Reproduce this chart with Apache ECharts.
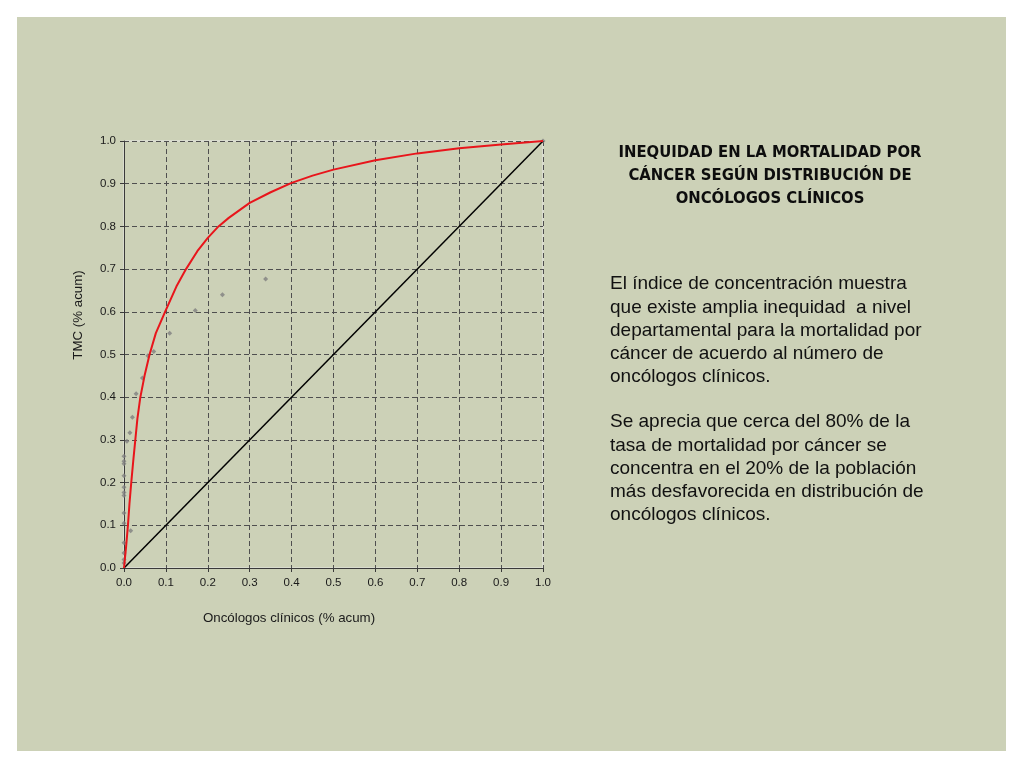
<!DOCTYPE html>
<html lang="es">
<head>
    <meta charset="utf-8">
    <title>Inequidad mortalidad por cáncer</title>
    <script src="https://cdn.jsdelivr.net/npm/echarts@6/dist/echarts.min.js"></script>
    <style>
        html, body {margin: 0; padding: 0; background: #ffffff;}
        #panel {position: absolute; left: 17px; top: 17px; width: 989px; height: 734px; background: #ccd1b7;}
        #main {position: absolute; left: 0; top: 0; width: 1024px; height: 768px;}
    </style>
</head>
<body>
<div id="panel"></div>
<div id="main"></div>

<script type="text/javascript">
    // puntos departamentales (x = oncólogos % acum, y = TMC % acum)
    var puntosX = [0, 0, 0, 0, 0, 0, 0, 0, 0, 0, 0, 0, 0,
        0.016, 0.007, 0.014, 0.020, 0.029, 0.044, 0.057, 0.071, 0.109, 0.170, 0.235, 0.338, 1.0];
    var puntosY = [0.012, 0.020, 0.035, 0.059, 0.105, 0.129, 0.170, 0.177, 0.189, 0.216, 0.244, 0.250, 0.262,
        0.087, 0.297, 0.317, 0.353, 0.408, 0.445, 0.497, 0.507, 0.550, 0.603, 0.640, 0.677, 1.0];

    // curva de concentración
    var curvaX = [0, 0.005, 0.0094, 0.013, 0.0173, 0.022, 0.027, 0.032, 0.039, 0.049, 0.061, 0.076, 0.098,
        0.125, 0.148, 0.175, 0.2, 0.2255, 0.25, 0.3, 0.35, 0.4, 0.45, 0.5, 0.6, 0.7, 0.8, 0.9, 1.0];
    var curvaY = [0, 0.05, 0.10, 0.15, 0.20, 0.25, 0.30, 0.35, 0.40, 0.45, 0.50, 0.55, 0.60,
        0.659, 0.70, 0.742, 0.773, 0.80, 0.82, 0.855, 0.88, 0.902, 0.919, 0.933, 0.955, 0.971, 0.983, 0.992, 1.0];

    // línea de igualdad
    var igualdadX = [0, 1];
    var igualdadY = [0, 1];

    var titulo = ['INEQUIDAD EN LA MORTALIDAD POR', 'CÁNCER SEGÚN DISTRIBUCIÓN DE', 'ONCÓLOGOS CLÍNICOS'];
    var parrafo1 = ['El índice de concentración muestra', 'que existe amplia inequidad  a nivel',
        'departamental para la mortalidad por', 'cáncer de acuerdo al número de', 'oncólogos clínicos.'];
    var parrafo2 = ['Se aprecia que cerca del 80% de la', 'tasa de mortalidad por cáncer se',
        'concentra en el 20% de la población', 'más desfavorecida en distribución de', 'oncólogos clínicos.'];

    function pares(xs, ys) {
        var out = [];
        for (var i = 0; i < xs.length; i++) out.push([xs[i], ys[i]]);
        return out;
    }

    var myChart = echarts.init(document.getElementById('main'), null, {renderer: 'canvas'});

    var ejeComun = {
        type: 'value',
        min: 0,
        max: 1,
        interval: 0.1,
        axisLine: {show: true, onZero: false, lineStyle: {color: '#3a3a3a', width: 1}},
        axisTick: {show: true, length: 4, lineStyle: {color: '#3a3a3a'}},
        axisLabel: {
            color: '#1a1a1a', fontSize: 11.5, fontFamily: 'Liberation Sans, Arial, sans-serif',
            formatter: function (v) { return v.toFixed(1); }
        },
        splitLine: {show: true, lineStyle: {color: '#4f4f4f', type: [5, 3], width: 1}}
    };

    var fuenteEje = '13.3px "Liberation Sans", Arial, sans-serif';
    var graficos = [
        {type: 'text', x: 78, y: 315, rotation: Math.PI / 2,
            style: {text: 'TMC (% acum)', fill: '#1a1a1a', font: fuenteEje,
                textAlign: 'center', textVerticalAlign: 'middle'}},
        {type: 'text', x: 289, y: 618,
            style: {text: 'Oncólogos clínicos (% acum)', fill: '#1a1a1a', font: fuenteEje,
                textAlign: 'center', textVerticalAlign: 'middle'}}
    ];
    titulo.forEach(function (t, i) {
        graficos.push({type: 'text', x: 770, y: 153 + i * 23,
            style: {text: t, fill: '#0d0d0d', font: 'bold 16.5px "DejaVu Sans Condensed", "Liberation Sans Narrow", sans-serif',
                textAlign: 'center', textVerticalAlign: 'middle'}});
    });
    parrafo1.forEach(function (t, i) {
        graficos.push({type: 'text', x: 610, y: 284 + i * 23.3,
            style: {text: t, fill: '#111', font: '19px "Liberation Sans", Arial, sans-serif',
                textAlign: 'left', textVerticalAlign: 'middle'}});
    });
    parrafo2.forEach(function (t, i) {
        graficos.push({type: 'text', x: 610, y: 422 + i * 23.3,
            style: {text: t, fill: '#111', font: '19px "Liberation Sans", Arial, sans-serif',
                textAlign: 'left', textVerticalAlign: 'middle'}});
    });

    var option = {
        backgroundColor: 'transparent',
        animation: false,
        grid: {left: 124, right: 481, top: 141, bottom: 200, show: true, borderColor: '#e6e6e6', borderWidth: 1},
        xAxis: Object.assign({}, ejeComun, {axisLabel: Object.assign({}, ejeComun.axisLabel, {margin: 9})}),
        yAxis: Object.assign({}, ejeComun, {axisLabel: Object.assign({}, ejeComun.axisLabel, {margin: 8})}),
        graphic: graficos,
        series: [
            {
                name: 'Igualdad', type: 'line', data: pares(igualdadX, igualdadY),
                symbol: 'none', lineStyle: {color: '#000000', width: 1.5}, z: 3
            },
            {
                name: 'Curva', type: 'line', data: pares(curvaX, curvaY), smooth: false,
                symbol: 'none', lineStyle: {color: '#e8151b', width: 2, join: 'round'}, z: 4
            },
            {
                name: 'Departamentos', type: 'scatter', data: pares(puntosX, puntosY),
                symbol: 'diamond', symbolSize: 5, itemStyle: {color: '#808080'}, z: 2
            }
        ]
    };

    myChart.setOption(option);
</script>

</body>
</html>
